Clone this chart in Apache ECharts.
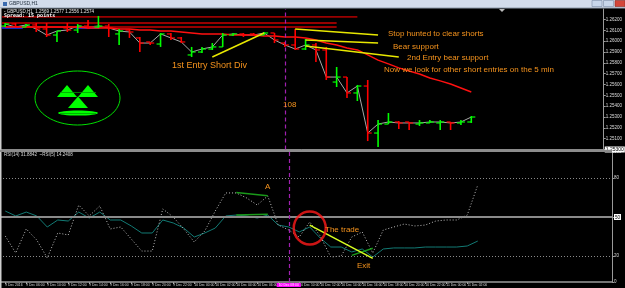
<!DOCTYPE html>
<html><head><meta charset="utf-8">
<script src="https://cdn.jsdelivr.net/npm/echarts@6/dist/echarts.min.js"></script>
<style>html,body{margin:0;padding:0;background:#000;overflow:hidden}#c{width:625px;height:288px}</style>
</head><body><div id="c"></div>
<script>
// ---------- DATA ----------
const timeLabels = ["9 Dec 2016","9 Dec 06:00","9 Dec 10:00","9 Dec 12:00","9 Dec 14:00","9 Dec 16:00","9 Dec 18:00","9 Dec 20:00","9 Dec 22:00","10 Dec 00:00","10 Dec 02:00","10 Dec 04:00","10 Dec 06:00","10 Dec 08:00","10 Dec 10:00","10 Dec 12:00","10 Dec 14:00","10 Dec 16:00","10 Dec 18:00","10 Dec 20:00","10 Dec 22:00","11 Dec 00:00","11 Dec 02:00"];
const cursorLabel = "10 Dec 08:00";
const cursorIndex = 27;

const barOpen  = [1.26140,1.26159,1.26131,1.26150,1.26113,1.26057,1.26122,1.26103,1.26140,1.26131,1.26140,1.26067,1.26103,1.26030,1.25993,1.25974,1.26067,1.26030,1.25873,1.25900,1.25928,1.25947,1.26057,1.26067,1.26067,1.26057,1.26076,1.25983,1.25965,1.25928,1.25965,1.25919,1.25623,1.25669,1.25522,1.25586,1.25152,1.25235,1.25254,1.25254,1.25235,1.25245,1.25245,1.25254,1.25245,1.25254];
const barHigh  = [1.26168,1.26168,1.26159,1.26168,1.26168,1.26094,1.26168,1.26159,1.26196,1.26233,1.26159,1.26113,1.26113,1.26039,1.25993,1.26076,1.26076,1.26039,1.25947,1.25947,1.25983,1.26076,1.26076,1.26076,1.26076,1.26085,1.26076,1.25993,1.26113,1.26020,1.25983,1.25947,1.25762,1.25669,1.25596,1.25642,1.25272,1.25337,1.25263,1.25254,1.25272,1.25272,1.25272,1.25254,1.25272,1.25309];
const barLow   = [1.26131,1.26131,1.26131,1.26085,1.26039,1.25993,1.26085,1.26076,1.26113,1.26122,1.26039,1.25965,1.26030,1.25900,1.25965,1.25947,1.26011,1.25983,1.25854,1.25891,1.25919,1.25947,1.26048,1.26039,1.26048,1.26057,1.25983,1.25947,1.25919,1.25919,1.25808,1.25642,1.25577,1.25476,1.25448,1.25078,1.25023,1.25235,1.25189,1.25180,1.25217,1.25245,1.25180,1.25180,1.25226,1.25245];
const barClose = [1.26159,1.26131,1.26150,1.26113,1.26057,1.26094,1.26103,1.26140,1.26131,1.26140,1.26122,1.26094,1.26085,1.25983,1.25983,1.26067,1.26030,1.25993,1.25900,1.25928,1.25947,1.26057,1.26067,1.26057,1.26057,1.26076,1.26011,1.25965,1.25928,1.25965,1.25919,1.25669,1.25669,1.25522,1.25586,1.25152,1.25235,1.25254,1.25245,1.25245,1.25245,1.25254,1.25254,1.25245,1.25254,1.25300];
const trendRed = [1.26131,1.26131,1.26131,1.26131,1.26131,1.26131,1.26131,1.26131,1.26122,1.26122,1.26122,1.26113,1.26113,1.26103,1.26103,1.26094,1.26094,1.26085,1.26076,1.26067,1.26067,1.26067,1.26057,1.26057,1.26057,1.26048,1.26048,1.26039,1.26039,1.26030,1.26011,1.25983,1.25965,1.25937,1.25919,1.25873,1.25826,1.25790,1.25753,1.25725,1.25697,1.25660,1.25633,1.25605,1.25568,1.25531];

const levelPrices = [1.26224, 1.26168, 1.26131];
const levelEnds   = [34, 32, 32];
const blueSegA = [[-0.3, 1.26122], [1.7, 1.26122]];
const blueSegB = [[6.8, 1.26122], [9.1, 1.26122]];
const lineEntry1   = [[20, 1.25854], [25, 1.26076]];
const lineStopHunt = [[28, 1.26113], [36, 1.26057]];
const lineBearSup  = [[29, 1.26011], [36, 1.25983]];
const lineEntry2   = [[29, 1.25956], [38, 1.25854]];
const bidPrice = 1.25300;
const priceTicks = [1.250,1.251,1.252,1.253,1.254,1.255,1.256,1.257,1.258,1.259,1.260,1.261,1.262];

const rsiFast = [35.4,22.3,40.8,32.3,18.5,37.7,36.2,59.2,50.8,58.5,40.8,42.3,33.1,23.8,23.8,56.2,50.0,40.8,30.8,39.2,54.6,68.5,68.5,64.6,59.2,66.2,43.8,40.0,34.6,46.2,35.4,19.2,20.0,34.6,38.5,22.3,40.0,42.3,44.6,43.1,43.8,46.9,47.7,47.7,51.5,74.6];
const rsiSlow = [54.6,50.8,53.8,50.8,42.3,47.7,46.9,53.8,49.2,53.8,47.7,47.7,43.1,37.7,37.7,47.7,45.4,41.5,34.6,37.7,41.5,50.8,51.5,50.8,49.2,51.5,43.8,42.3,38.5,42.3,33.8,26.9,26.9,23.1,25.4,19.2,25.4,26.2,26.2,26.2,26.9,26.9,26.9,26.9,27.7,31.5];
const rsiGreenA = [[22, 68.9], [25, 66.4]];
const rsiGreenB = [[22, 51.5], [25, 52.1]];
const rsiGreenC = [[33, 20.5], [35, 26.0]];
const tradeLine = [[29, 43.8], [35, 18.2]];
const circleAt = [[29, 41.5]];
const rsiTicks = [0, 20, 50, 80, 100];
const rsiLevels = [80, 50, 20];

// ---------- CHART ----------
const FONT = '"Liberation Sans", Arial, sans-serif';
const ORANGE = '#f7941d';
const CURSOR = '#a020b0';
const X_MIN = -0.5, X_MAX = -0.5 + 612 / 10.5;
const labelIdx = timeLabels.map((_, k) => 2 * k);
const ohlc = barOpen.map((o, i) => [i, o, barClose[i], barLow[i], barHigh[i]]);

function seg(data, color, width, grid, extra) {
  return Object.assign({type:'line', xAxisIndex:grid, yAxisIndex:grid, data:data, symbol:'none', silent:true,
    lineStyle:{color:color, width:width}, z:3}, extra || {});
}

const series = [];
levelPrices.forEach((p, k) => {
  series.push(seg([[-0.3, p], [levelEnds[k], p]], ['#9a0000','#c80000','#c80000'][k], k === 0 ? 1.8 : 1.3, 0));
});
series.push(seg(blueSegA, '#1030ff', 1.5, 0));
series.push(seg(blueSegB, '#1030ff', 1.5, 0));
series.push(seg(trendRed.map((v, i) => [i, v]), '#ff1010', 1.4, 0));
series.push(seg(barClose.map((v, i) => [i, v]), '#a8a8a8', 1, 0, {
  z:2,
  markLine:{silent:true, symbol:['none','none'], animation:false,
    data:[
      {yAxis:bidPrice, lineStyle:{color:'#8a8a8a', width:1, type:'solid'},
       label:{show:true, position:'end', formatter:bidPrice.toFixed(5), backgroundColor:'#ffffff', color:'#000', fontSize:5, padding:[1,1,0,1], distance:1, fontFamily:FONT}},
      {xAxis:cursorIndex, lineStyle:{color:CURSOR, width:1.2, type:[4,3]}, label:{show:false}}
    ]}
}));
series.push({
  type:'custom', xAxisIndex:0, yAxisIndex:0, data:ohlc, encode:{x:0, y:[1,2,3,4]}, z:4,
  renderItem: function(params, api) {
    const x = api.value(0);
    const o = api.coord([x, api.value(1)]);
    const c = api.coord([x, api.value(2)]);
    const l = api.coord([x, api.value(3)]);
    const h = api.coord([x, api.value(4)]);
    const col = api.value(2) >= api.value(1) ? '#00ff00' : '#ff0000';
    return {type:'group', children:[
      {type:'line', shape:{x1:h[0], y1:h[1], x2:l[0], y2:l[1]}, style:{stroke:col, lineWidth:1.6}},
      {type:'line', shape:{x1:o[0]-4, y1:o[1], x2:o[0], y2:o[1]}, style:{stroke:col, lineWidth:1.2}},
      {type:'line', shape:{x1:c[0], y1:c[1], x2:c[0]+4, y2:c[1]}, style:{stroke:col, lineWidth:1.2}}
    ]};
  }
});
[lineEntry1, lineStopHunt, lineBearSup, lineEntry2].forEach(d => series.push(seg(d, '#e8e800', 1.5, 0, {z:5})));

// RSI panel
series.push(seg(rsiSlow.map((v, i) => [i, v]), '#127a74', 1, 1, {
  markLine:{silent:true, symbol:['none','none'], animation:false,
    data:[
      {yAxis:rsiLevels[0], lineStyle:{color:'#8a8a8a', width:1, type:[1,2]}, label:{show:false}},
      {yAxis:rsiLevels[1], lineStyle:{color:'#8a8a8a', width:2, type:'solid'}, label:{show:false}},
      {yAxis:rsiLevels[2], lineStyle:{color:'#8a8a8a', width:1, type:[1,2]}, label:{show:false}},
      {xAxis:cursorIndex, lineStyle:{color:CURSOR, width:1.2, type:[4,3]},
       label:{show:true, position:'start', formatter:cursorLabel, backgroundColor:'#ff00ff', color:'#ffffff', fontSize:3.4, padding:[1,2,0,2], distance:1, fontFamily:FONT}}
    ]}
}));
series.push(seg(rsiFast.map((v, i) => [i, v]), '#bdbdbd', 1, 1, {lineStyle:{color:'#bdbdbd', width:1, type:[1,2]}}));
series.push(seg(rsiGreenA, '#1a9a1a', 1.5, 1, {z:4}));
series.push(seg(rsiGreenB, '#1a9a1a', 1.5, 1, {z:4}));
series.push(seg(rsiGreenC, '#1a9a1a', 1.5, 1, {z:4}));
series.push(seg(tradeLine, '#d8ff20', 1.5, 1, {z:5}));
series.push({type:'scatter', xAxisIndex:1, yAxisIndex:1, data:circleAt, symbol:'circle', symbolSize:[32,33], silent:true, z:6,
  itemStyle:{color:'rgba(0,0,0,0)', borderColor:'#ff1a1a', borderWidth:2.5}});

function txt(x, y, text, size, color, extra) {
  return {type:'text', x:x, y:y, z:100, silent:true,
    style:Object.assign({text:text, fill:color, font:size + 'px ' + FONT, verticalAlign:'middle'}, extra || {})};
}

const graphic = [
  {type:'rect', shape:{x:0, y:0, width:625, height:8}, style:{fill:'#d3dceb'}, z:100},
  {type:'rect', shape:{x:0, y:7.5, width:625, height:1}, style:{fill:'#8d99aa'}, z:100},
  txt(9, 4, 'GBPUSD,H1', 5, '#1d2a3a'),
  {type:'rect', shape:{x:3, y:2, width:4, height:4}, style:{fill:'#3b6bb0'}, z:100},
  {type:'rect', shape:{x:592, y:0.5, width:10, height:6}, style:{fill:'#c8d6ea', stroke:'#7b8ca6', lineWidth:0.6}, z:101},
  {type:'rect', shape:{x:603.5, y:0.5, width:10, height:6}, style:{fill:'#c8d6ea', stroke:'#7b8ca6', lineWidth:0.6}, z:101},
  {type:'rect', shape:{x:615, y:0.5, width:10, height:6}, style:{fill:'#d4463a', stroke:'#8a2a22', lineWidth:0.6}, z:101},
  txt(620, 3.7, 'x', 5, '#ffffff', {align:'center'}),
  {type:'rect', shape:{x:0, y:8, width:1.5, height:280}, style:{fill:'#cfcfcf'}, z:100},
  {type:'rect', shape:{x:0, y:149.8, width:612, height:2.2}, style:{fill:'#8c8c8c'}, z:100},
  {type:'polygon', shape:{points:[[499,9],[505,9],[502,12]]}, style:{fill:'#bbbbbb'}, z:100},
  txt(4, 11.5, '- GBPUSD,H1  1.2569 1.2577 1.2556 1.2574', 4.5, '#e8e8e8'),
  txt(4, 15.5, 'Spread: 15 points', 5, '#ffffff', {font:'bold 5px "DejaVu Sans Mono", monospace'}),
  txt(4, 155, 'RSI(14) 31.8842  ~RSI(5) 14.2408', 4.5, '#d8d8d8'),
  // logo
  {type:'ellipse', shape:{cx:77.5, cy:98, rx:42.5, ry:27}, style:{fill:null, stroke:'#00e000', lineWidth:1}, z:100},
  {type:'polygon', shape:{points:[[67,85],[57,97],[77,97]]}, style:{fill:'#00ff00'}, z:100},
  {type:'polygon', shape:{points:[[88,85],[78,97],[98,97]]}, style:{fill:'#00ff00'}, z:100},
  {type:'polygon', shape:{points:[[78,96.5],[68,108],[88,108]]}, style:{fill:'#00ff00'}, z:100},
  {type:'ellipse', shape:{cx:78, cy:113, rx:20, ry:2.6}, style:{fill:'#00ff00'}, z:100},
  {type:'rect', shape:{x:60, y:92, width:36, height:0.8}, style:{fill:'#009a00'}, z:101},
  {type:'rect', shape:{x:60, y:113, width:36, height:0.8}, style:{fill:'#009a00'}, z:101},
  // annotations
  txt(172, 66, '1st Entry Short Div', 9, ORANGE),
  txt(388, 34, 'Stop hunted to clear shorts', 8, ORANGE),
  txt(393, 47, 'Bear support', 8, ORANGE),
  txt(407, 58, '2nd Entry bear support', 8, ORANGE),
  txt(384, 70, 'Now we look for other short entries on the 5 min', 8, ORANGE),
  txt(283, 105, '108', 8, ORANGE),
  txt(265, 187, 'A', 8, ORANGE),
  txt(325, 230, 'The trade', 8, ORANGE),
  txt(357, 265.5, 'Exit', 8, ORANGE)
];

const axisCol = '#9a9a9a';
const option = {
  backgroundColor:'#000000',
  animation:false,
  grid:[
    {left:0, top:9, width:612, height:140.5},
    {left:0, top:152, width:612, height:130}
  ],
  xAxis:[
    {type:'value', gridIndex:0, min:X_MIN, max:X_MAX, show:false},
    {type:'value', gridIndex:1, min:X_MIN, max:X_MAX,
      axisLine:{show:true, lineStyle:{color:axisCol, width:1.5}},
      axisTick:{show:true, customValues:labelIdx, length:2, lineStyle:{color:axisCol}},
      axisLabel:{customValues:labelIdx, formatter:v => timeLabels[Math.round(v / 2)] || '', align:'left',
        fontSize:3.4, color:'#dcdcdc', margin:2, fontFamily:FONT, hideOverlap:false},
      splitLine:{show:false}}
  ],
  yAxis:[
    {type:'value', gridIndex:0, position:'right', min:1.25, max:1.25 + 0.001 * 140.5 / 10.83,
      axisLine:{show:true, onZero:false, lineStyle:{color:axisCol}},
      axisTick:{show:true, customValues:priceTicks, length:2, lineStyle:{color:axisCol}},
      axisLabel:{customValues:priceTicks, formatter:v => v.toFixed(5), fontSize:4.5, color:'#dcdcdc', margin:2, fontFamily:FONT},
      splitLine:{show:false}},
    {type:'value', gridIndex:1, position:'right', min:0, max:100,
      axisLine:{show:true, onZero:false, lineStyle:{color:axisCol}},
      axisTick:{show:true, customValues:rsiTicks, length:2, lineStyle:{color:axisCol}},
      axisLabel:{customValues:rsiTicks, formatter:v => v === 50 ? '{hl|50}' : String(v), fontSize:4.5, color:'#dcdcdc', margin:2, fontFamily:FONT,
        rich:{hl:{backgroundColor:'#ffffff', color:'#000', fontSize:4.5, padding:[1,1,0,1]}}},
      splitLine:{show:false}}
  ],
  series:series,
  graphic:graphic
};
const chart = echarts.init(document.getElementById('c'));
chart.setOption(option);
</script>
</body></html>
